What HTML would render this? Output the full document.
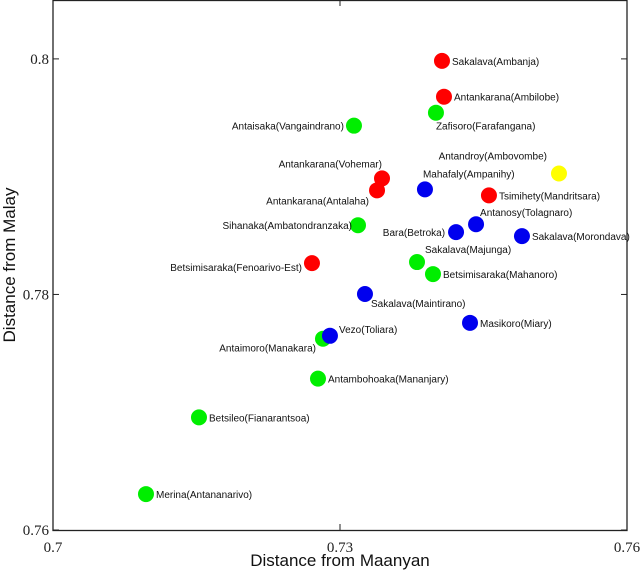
<!DOCTYPE html>
<html><head><meta charset="utf-8"><style>
body{margin:0;background:#fff;}
svg{display:block;font-family:"Liberation Sans",sans-serif;}
.tick{font-family:"Liberation Serif",serif;font-size:15px;fill:#222;}
.lbl{font-size:10px;fill:#111;}
</style></head><body>
<svg id="chart" width="640" height="570"></svg>
<script>
const names=["Sakalava(Ambanja)","Antankarana(Ambilobe)","Zafisoro(Farafangana)","Antaisaka(Vangaindrano)","Antandroy(Ambovombe)","Antankarana(Vohemar)","Antankarana(Antalaha)","Mahafaly(Ampanihy)","Tsimihety(Mandritsara)","Antanosy(Tolagnaro)","Bara(Betroka)","Sakalava(Morondava)","Sihanaka(Ambatondranzaka)","Betsimisaraka(Fenoarivo-Est)","Sakalava(Majunga)","Betsimisaraka(Mahanoro)","Sakalava(Maintirano)","Masikoro(Miary)","Antaimoro(Manakara)","Vezo(Toliara)","Antambohoaka(Mananjary)","Betsileo(Fianarantsoa)","Merina(Antananarivo)"];
const xVals=[0.74066,0.74087,0.74003,0.73146,0.75289,0.73439,0.73387,0.73888,0.74557,0.74422,0.74213,0.74902,0.73188,0.72707,0.73805,0.73972,0.73261,0.74359,0.72822,0.72895,0.7277,0.71526,0.70972];
const yVals=[0.79983,0.79679,0.79543,0.79433,0.79027,0.78985,0.78884,0.78892,0.78841,0.78596,0.78529,0.78495,0.78588,0.78266,0.78275,0.78173,0.78004,0.77759,0.77624,0.77649,0.77285,0.76956,0.76305];
const groups=["r","r","g","g","y","r","r","b","r","b","b","b","g","r","g","g","b","b","g","b","g","g","g"];
const xTicks=[0.70,0.73,0.76];
const yTicks=[0.76,0.78,0.80];
const xTickLabels=["0.7","0.73","0.76"];
const yTickLabels=["0.76","0.78","0.8"];
const lp={0:[10,4,"start"],1:[10,4,"start"],2:[0,17,"start"],3:[-10,4,"end"],4:[-12,-14,"end"],5:[0,-11,"end"],6:[-8,14,"end"],7:[-2,-12,"start"],8:[10,4,"start"],9:[4,-8,"start"],10:[-11,4,"end"],11:[10,4,"start"],12:[-6,4,"end"],13:[-10,8,"end"],14:[8,-9,"start"],15:[10,4,"start"],16:[6,13,"start"],17:[10,4,"start"],18:[-7,13,"end"],19:[9,-3,"start"],20:[10,4,"start"],21:[10,4,"start"],22:[10,4,"start"]};
const colors={r:"#ff0000",g:"#00ee00",b:"#0000ee",y:"#ffff00"};
const L=53,R=627,T=0,B=530,xmin=0.70,xmax=0.76,ymin=0.76,ymax=0.805;
const sx=v=>L+(v-xmin)/(xmax-xmin)*(R-L);
const sy=v=>B-(v-ymin)/(ymax-ymin)*(B-T);
const NS="http://www.w3.org/2000/svg";
const svg=document.getElementById("chart");
function mk(t,a,p){const e=document.createElementNS(NS,t);for(const k in a)e.setAttribute(k,a[k]);(p||svg).appendChild(e);return e;}
const box=mk("rect",{x:L,y:T+0.5,width:R-L,height:B-T,fill:"none",stroke:"#222","stroke-width":1.3});


xTicks.forEach((v,i)=>{
 const x=sx(v);
 const t1=mk("line",{x1:x,y1:B,x2:x,y2:B-6,stroke:"#222"});
 
 
 mk("line",{x1:x,y1:T,x2:x,y2:T+6,stroke:"#222"});
 const tx=mk("text",{x:x,y:B+22,"text-anchor":"middle",class:"tick"});tx.textContent=xTickLabels[i];
 
 
});
yTicks.forEach((v,i)=>{
 const y=sy(v);
 const t1=mk("line",{x1:L,y1:y,x2:L+6,y2:y,stroke:"#222"});
 
 
 mk("line",{x1:R,y1:y,x2:R-6,y2:y,stroke:"#222"});
 const tx=mk("text",{x:L-4,y:y+5,"text-anchor":"end",class:"tick"});tx.textContent=yTickLabels[i];
 
 
});
names.forEach((n,i)=>{
 const cx=sx(xVals[i]),cy=sy(yVals[i]);
 const c=mk("circle",{cx:cx,cy:cy,r:8,fill:colors[groups[i]]});
 
 
 const p=lp[i];
 const t=mk("text",{x:cx+p[0],y:cy+p[1],"text-anchor":p[2],class:"lbl"});t.textContent=n;
 
 
});
const xt=mk("text",{x:340,y:566,"text-anchor":"middle","font-size":17,fill:"#111"});xt.textContent="Distance from Maanyan";


const yt=mk("text",{x:0,y:0,"text-anchor":"middle","font-size":17,fill:"#111",transform:"translate(15,265) rotate(-90)"});yt.textContent="Distance from Malay";


</script>
</body></html>
